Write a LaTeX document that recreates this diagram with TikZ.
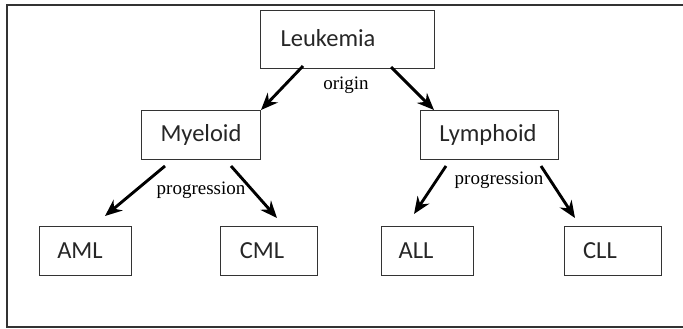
\documentclass[tikz,border=0pt]{standalone}
\usepackage{fontspec}
\setmainfont{Liberation Serif}
\newfontfamily\boxfont{Carlito}
\usetikzlibrary{arrows.meta}
\begin{document}
\begin{tikzpicture}[x=1pt,y=-1pt,
  box/.style={draw=black!80,line width=1.4pt,inner sep=0pt,anchor=north west},
  boxtext/.style={font=\boxfont\fontsize{24.5}{28}\selectfont,text=black!85,inner sep=0pt},
  lbl/.style={font=\fontsize{19}{21}\selectfont,inner sep=0pt},
  arr/.style={line width=2.9pt,-{Stealth[length=17pt,width=14pt]}}]
\useasboundingbox (0,0) rectangle (683,329);
\draw[line width=1.4pt,black!80] (684,5) -- (7,5) -- (7,327) -- (684,327);
% boxes
\node[box,minimum width=174pt,minimum height=58pt] (leuk) at (260,10) {};
\node[box,minimum width=119pt,minimum height=49pt] (mye) at (141,110) {};
\node[box,minimum width=138pt,minimum height=49pt] (lym) at (420,110) {};
\node[box,minimum width=92pt,minimum height=49pt] (aml) at (39,226) {};
\node[box,minimum width=97pt,minimum height=49pt] (cml) at (220,226) {};
\node[box,minimum width=92pt,minimum height=49pt] (all) at (381,226) {};
\node[box,minimum width=97pt,minimum height=49pt] (cll) at (564,226) {};
% texts
\node[boxtext] (tleuk) at (328,38) {Leukemia};
\node[boxtext] (tmye) at (201,135) {Myeloid};
\node[boxtext] (tlym) at (488,135) {Lymphoid};
\node[boxtext] (taml) at (80,251) {AML};
\node[boxtext] (tcml) at (262,251) {CML};
\node[boxtext] (tall) at (416,251) {ALL};
\node[boxtext] (tcll) at (600,251) {CLL};
% arrow end points
\coordinate (s1) at (303,66);  \coordinate (e1) at (261,110);
\coordinate (s2) at (391,67);  \coordinate (e2) at (434,110);
\coordinate (s3) at (165,166); \coordinate (e3) at (105,216);
\coordinate (s4) at (231,166); \coordinate (e4) at (277,218);
\coordinate (s5) at (446,166); \coordinate (e5) at (414,214);
\coordinate (s6) at (541,166); \coordinate (e6) at (575,218);
\draw[arr] (s1) -- (e1);
\draw[arr] (s2) -- (e2);
\draw[arr] (s3) -- (e3);
\draw[arr] (s4) -- (e4);
\draw[arr] (s5) -- (e5);
\draw[arr] (s6) -- (e6);
% labels
\node[lbl] (origin) at (346,85) {origin};
\node[lbl] (prog1) at (201,190) {progression};
\node[lbl] (prog2) at (499,180) {progression};
\end{tikzpicture}
\end{document}
